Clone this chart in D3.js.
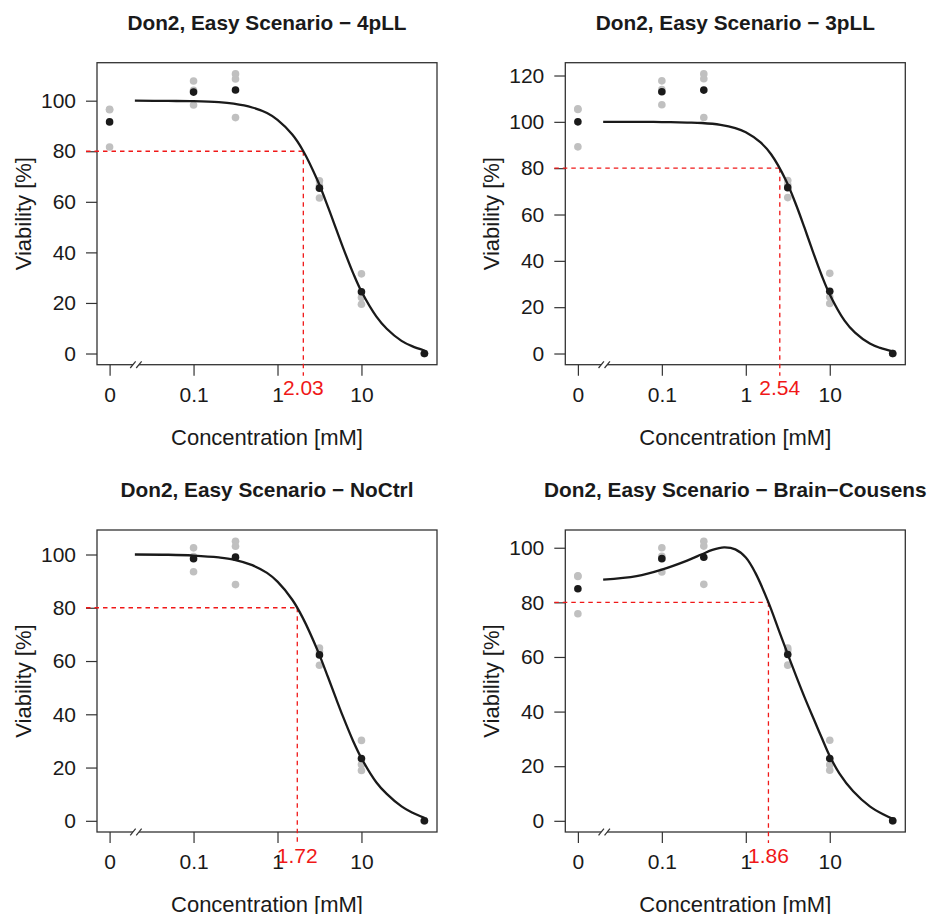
<!DOCTYPE html>
<html>
<head>
<meta charset="utf-8">
<script src="https://cdn.jsdelivr.net/npm/d3@7"></script>
<style>
    body { margin: 0; background: #fff; }
    text { font-family: "Liberation Sans", Arial, Helvetica, sans-serif; fill: #1a1a1a; }
</style>
</head>
<body>
<script>

////////////////////////////
// Data

// doses used in the experiment (0 = control, drawn one decade below 0.1)
var doses = [0, 0.1, 0.316, 3.16, 10, 56.2];
var zeroPos = 0.01;
var breakPos = 0.0206;
var xTickVals = [0.01, 0.1, 1, 10];
var xTickLabels = ["0", "0.1", "1", "10"];

var titles = [
    "Don2, Easy Scenario \u2212 4pLL",
    "Don2, Easy Scenario \u2212 3pLL",
    "Don2, Easy Scenario \u2212 NoCtrl",
    "Don2, Easy Scenario \u2212 Brain\u2212Cousens"
];
var ec80 = [2.03, 2.54, 1.72, 1.86];

// replicates (grey) and means (black), one entry per dose
var reps4pLL = [[96.4, 96.6, 81.7], [107.8, 104.1, 98.3], [110.6, 108.6, 93.3], [68.3, 66.4, 61.5], [31.5, 22.2, 19.5], [0, 0, 0]];
var mean4pLL = [91.6, 103.4, 104.2, 65.4, 24.4, 0];

var reps3pLL = [[105.3, 105.6, 89.2], [117.7, 113.9, 107.4], [120.7, 118.6, 101.9], [74.7, 72.8, 67.3], [34.6, 24.4, 21.6], [0, 0, 0]];
var mean3pLL = [100.0, 113.0, 113.7, 71.6, 26.9, 0];

var repsNoCtrl = [[], [102.5, 99.2, 93.5], [105.0, 103.1, 88.7], [64.9, 63.6, 58.4], [30.2, 21.1, 18.9], [0, 0, 0]];
var meanNoCtrl = [null, 98.4, 99.0, 62.3, 23.4, 0];

var repsBC = [[89.7, 89.5, 75.8], [100.0, 96.9, 91.1], [102.4, 100.6, 86.6], [63.3, 62.4, 57.0], [29.5, 20.5, 18.5], [0, 0, 0]];
var meanBC = [85.0, 96.0, 96.5, 60.9, 22.8, 0];

// fitted curves
var curveDoses = [0.02, 0.05, 0.1, 0.2, 0.3, 0.5, 0.75, 1, 1.5, 2, 3, 4, 5, 6, 8, 10, 15, 20, 30, 40, 56.2];
var curve4pLL   = [100, 99.9, 99.8, 99.4, 98.8, 97.3, 95.1, 92.4, 86.6, 80.4, 68.4, 57.9, 49.2, 42.1, 31.6, 24.5, 14.7, 9.8, 5.0, 2.9, 1.2];
var curve3pLL   = [100, 100, 99.9, 99.7, 99.5, 98.7, 97.3, 95.5, 91.1, 86.0, 74.8, 63.9, 54.3, 46.1, 33.8, 25.5, 14.2, 9.0, 4.3, 2.4, 0.9];
var curveNoCtrl = [100, 99.9, 99.6, 98.9, 98.1, 96.0, 93.1, 89.8, 83.0, 76.2, 64.0, 53.9, 45.8, 39.3, 29.8, 23.5, 14.5, 10.1, 5.4, 3.1, 1.1];

var curveDosesBC = [0.02, 0.05, 0.1, 0.2, 0.3, 0.4, 0.55, 0.75, 1, 1.3, 1.86, 2.5, 3.16, 4, 5, 6.5, 8, 10, 13, 19, 30, 45, 56.2];
var curveBC      = [88.3, 89.6, 92.0, 95.3, 97.6, 99.2, 100.1, 99.4, 96.4, 90.8, 80, 69.4, 61.0, 52.8, 45.3, 37.0, 30.5, 23.7, 17.4, 10.8, 5.3, 2.1, 0.7];

var panels = [
    { title: titles[0], ec: ec80[0], reps: reps4pLL,   means: mean4pLL,   cx: curveDoses,   cy: curve4pLL },
    { title: titles[1], ec: ec80[1], reps: reps3pLL,   means: mean3pLL,   cx: curveDoses,   cy: curve3pLL },
    { title: titles[2], ec: ec80[2], reps: repsNoCtrl, means: meanNoCtrl, cx: curveDoses,   cy: curveNoCtrl },
    { title: titles[3], ec: ec80[3], reps: repsBC,     means: meanBC,     cx: curveDosesBC, cy: curveBC }
];

////////////////////////////
// Layout
var width = 927, height = 914;
var boxW = 340, boxH = 302;
var colX = [97, 565.3], rowY = [62.7, 530];
var tick = 11;
var red = "#f01818";

var svg = d3.select("body").append("svg")
    .attr("width", width)
    .attr("height", height);

svg.append("rect").attr("width", width).attr("height", height).attr("fill", "#fff");

function plotDose(d) { return d === 0 ? zeroPos : d; }

function drawPanel(p, i) {
    var L = colX[i % 2], T = rowY[Math.floor(i / 2)];
    var R = L + boxW, B = T + boxH;

    // x: log scale, R style 4% padding
    var lo = Math.log10(zeroPos), hi = Math.log10(d3.max(doses));
    var px = 0.04 * (hi - lo);
    var x = d3.scaleLog()
        .domain([Math.pow(10, lo - px), Math.pow(10, hi + px)])
        .range([L, R]);

    // y: from replicate range, 4% padding
    var all = [].concat.apply([], p.reps);
    var ylo = d3.min(all), yhi = d3.max(all);
    var py = 0.04 * (yhi - ylo);
    var y = d3.scaleLinear()
        .domain([ylo - py, yhi + py])
        .range([B, T]);

    var g = svg.append("g");

    // axes
    var yAxis = d3.axisLeft(y).ticks(5).tickSize(tick).tickPadding(10);
    var ya = g.append("g").attr("transform", "translate(" + L + ",0)").call(yAxis);
    ya.select(".domain").remove();
    ya.selectAll("line").attr("stroke", "#333").attr("stroke-width", 1.2);
    ya.selectAll("text").attr("font-size", "21px").attr("fill", "#1a1a1a")
        .attr("font-family", "Liberation Sans, Arial, sans-serif");

    var xAxis = d3.axisBottom(x).tickValues(xTickVals).tickSize(tick).tickPadding(11.5)
        .tickFormat(function(d, k) { return xTickLabels[k]; });
    var xa = g.append("g").attr("transform", "translate(0," + B + ")").call(xAxis);
    xa.select(".domain").remove();
    xa.selectAll("line").attr("stroke", "#333").attr("stroke-width", 1.2);
    xa.selectAll("text").attr("font-size", "21px").attr("fill", "#1a1a1a")
        .attr("font-family", "Liberation Sans, Arial, sans-serif");

    // box
    g.append("rect")
        .attr("x", L).attr("y", T)
        .attr("width", boxW).attr("height", boxH)
        .attr("fill", "none")
        .attr("stroke", "#333")
        .attr("stroke-width", 1.3);

    // axis break "//"
    var bx = x(breakPos);
    g.append("polygon")
        .attr("points", [[bx - 5.7, B + 3.3], [bx - 0.3, B - 3.3], [bx + 5.7, B - 3.3], [bx + 0.3, B + 3.3]].join(" "))
        .attr("fill", "#fff");
    [-3, 3].forEach(function(o) {
        g.append("line")
            .attr("x1", bx + o - 2.7).attr("y1", B + 3.3)
            .attr("x2", bx + o + 2.7).attr("y2", B - 3.3)
            .attr("stroke", "#333").attr("stroke-width", 1.2);
    });

    // EC80 reference lines
    g.append("line")
        .attr("x1", L - tick).attr("y1", y(80))
        .attr("x2", x(p.ec)).attr("y2", y(80))
        .attr("stroke", red).attr("stroke-width", 1.3)
        .attr("stroke-dasharray", "4.5,4");
    g.append("line")
        .attr("x1", x(p.ec)).attr("y1", y(80))
        .attr("x2", x(p.ec)).attr("y2", B + tick)
        .attr("stroke", red).attr("stroke-width", 1.3)
        .attr("stroke-dasharray", "4.5,4");

    // replicate points
    var grey = [];
    p.reps.forEach(function(r, k) {
        r.forEach(function(v) { grey.push({ d: doses[k], v: v }); });
    });
    g.selectAll("circle.rep")
        .data(grey)
        .enter()
        .append("circle")
        .attr("class", "rep")
        .attr("cx", function(d) { return x(plotDose(d.d)); })
        .attr("cy", function(d) { return y(d.v); })
        .attr("r", 3.8)
        .style("fill", "#c0c0c0");

    // fitted curve
    var pts = p.cx.map(function(d, k) { return [d, p.cy[k]]; });
    var line = d3.line()
        .x(function(d) { return x(d[0]); })
        .y(function(d) { return y(d[1]); })
        .curve(d3.curveCatmullRom.alpha(0.5));
    g.append("path")
        .attr("d", line(pts))
        .attr("fill", "none")
        .attr("stroke", "#1a1a1a")
        .attr("stroke-width", 2.3);

    // means
    var means = [];
    p.means.forEach(function(v, k) { if (v !== null) means.push({ d: doses[k], v: v }); });
    g.selectAll("circle.mean")
        .data(means)
        .enter()
        .append("circle")
        .attr("class", "mean")
        .attr("cx", function(d) { return x(plotDose(d.d)); })
        .attr("cy", function(d) { return y(d.v); })
        .attr("r", 3.8)
        .style("fill", "#1a1a1a");

    // EC80 label
    g.append("text")
        .attr("x", x(p.ec)).attr("y", B + 30.5)
        .attr("text-anchor", "middle")
        .attr("font-size", "21px")
        .style("fill", red)
        .text(p.ec.toFixed(2));

    // titles
    g.append("text")
        .attr("x", L + boxW / 2).attr("y", T - 33)
        .attr("text-anchor", "middle")
        .attr("font-size", "20.8px")
        .attr("font-weight", "bold")
        .text(p.title);

    g.append("text")
        .attr("x", L + boxW / 2).attr("y", B + 80)
        .attr("text-anchor", "middle")
        .attr("font-size", "22px")
        .text("Concentration [mM]");

    g.append("text")
        .attr("transform", "translate(" + (L - 66) + "," + (T + boxH / 2) + ") rotate(-90)")
        .attr("text-anchor", "middle")
        .attr("font-size", "22px")
        .text("Viability [%]");
}

panels.forEach(drawPanel);

</script>
</body>
</html>
